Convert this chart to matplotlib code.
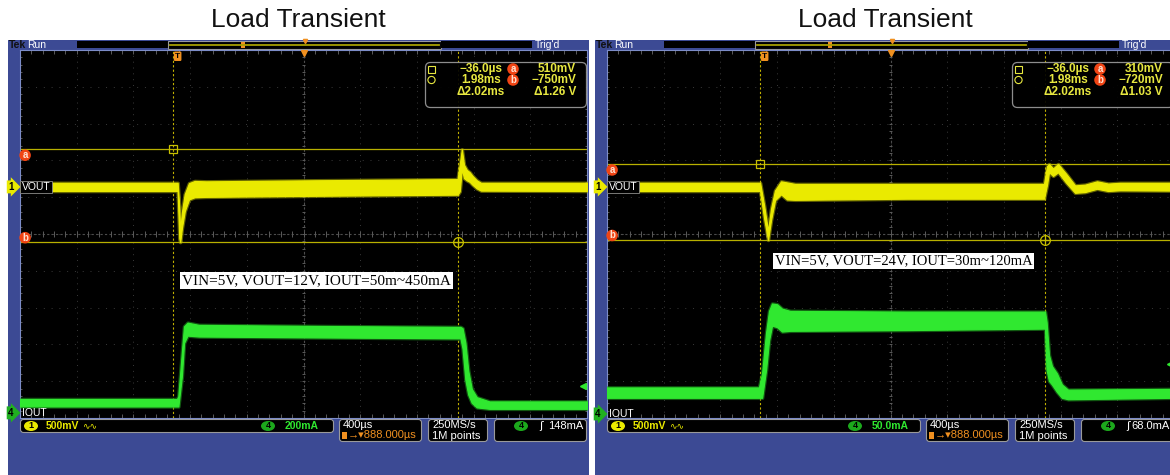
import numpy as np
import matplotlib
matplotlib.use("Agg")
import matplotlib.pyplot as plt
from matplotlib.patches import Rectangle, FancyBboxPatch, Ellipse, Circle
from matplotlib.transforms import blended_transform_factory

W, H = 1170, 475
plt.rcParams["font.family"] = ["Liberation Sans", "DejaVu Sans"]

# ---- scope settings (left: 12 V, right: 24 V) ----
TITLES = ["Load Transient", "Load Transient"]
NOTES = ["VIN=5V, VOUT=12V, IOUT=50m~450mA", "VIN=5V, VOUT=24V, IOUT=30m~120mA"]
CH1_SCALE_MV = 500
CH4_SCALE_MA = [200, 50]
CH4_SCALE_TXT = ["200mA", "50.0mA"]
TIME_PER_DIV_MS = 0.4
H_POSITION_MS = 0.888
CURSOR_T_MS = [-0.036, 1.98]
CURSOR_A_MV = [510, 310]
CURSOR_B_MV = [-750, -720]
TRIG_LEVEL_MA = [148, 68]
TRIG_TXT = ["148mA", "68.0mA"]
CH1_POS_DIV = [1.28, 1.28]
CH4_POS_DIV = [-4.86, -4.89]

# ---- traces: time (ms), upper / lower envelope of the noisy band ----
VOUT12_T = [-1.112, 0.000, 0.012, 0.018, 0.030, 0.050, 0.080, 0.120, 0.200, 1.000,
            1.975, 1.990, 2.005, 2.020, 2.040, 2.060, 2.080, 2.110, 2.140, 2.888]
VOUT12_HI = [55, 55, -300, -600, -350, -100, 50, 80, 75, 90,
             105, 300, 510, 300, 230, 200, 150, 90, 55, 55]
VOUT12_LO = [-55, -55, -700, -750, -560, -330, -170, -140, -135, -120,
             -105, -60, 250, 120, 90, 70, 30, -20, -50, -55]

IOUT12_T = [-1.112, -0.005, 0.005, 0.030, 0.045, 0.070, 0.150, 1.000,
            1.995, 2.010, 2.030, 2.050, 2.075, 2.110, 2.200, 2.888]
IOUT12_HI = [75, 75, 90, 330, 470, 490, 478, 472, 467, 460, 380, 230, 130, 85, 62, 62]
IOUT12_LO = [35, 35, 35, 200, 380, 420, 415, 410, 405, 350, 180, 100, 55, 30, 22, 22]

VOUT24_T = [-1.112, -0.032, -0.004, 0.024, 0.045, 0.073, 0.116, 0.158, 0.215, 1.000,
            1.971, 1.992, 2.006, 2.035, 2.070, 2.126, 2.190, 2.260, 2.345, 2.423, 2.508, 2.888]
VOUT24_HI = [55, 55, -250, -600, -300, -50, 75, 60, 40, 40,
             40, 280, 310, 250, 310, 180, 20, 30, 75, 45, 55, 55]
VOUT24_LO = [-55, -55, -420, -720, -450, -180, -100, -170, -175, -160,
             -160, 30, 200, 150, 200, 60, -80, -70, -25, -55, -45, -50]

IOUT24_T = [-1.112, -0.040, -0.018, 0.010, 0.031, 0.052, 0.088, 0.123, 0.180, 1.000,
            1.978, 1.989, 2.006, 2.027, 2.062, 2.097, 2.140, 2.888]
IOUT24_HI = [36, 36, 55, 110, 140, 150, 149, 143, 140, 139,
             139, 125, 80, 65, 55, 40, 33, 34]
IOUT24_LO = [22, 22, 22, 60, 100, 120, 118, 112, 113, 114,
             116, 60, 45, 40, 30, 22, 20, 22]

PANELS = [
    (VOUT12_T, VOUT12_HI, VOUT12_LO, IOUT12_T, IOUT12_HI, IOUT12_LO),
    (VOUT24_T, VOUT24_HI, VOUT24_LO, IOUT24_T, IOUT24_HI, IOUT24_LO),
]

BLUE = "#3c4a94"
YEL = "#eaea00"
GRN = "#30e830"
ORANGE = "#f09020"
RED = "#f04414"
CUR = "#b8b000"
TXT_YEL = "#e8e840"
PANEL_DX = 587


def place(x0, y0, x1, y1):
    return [x0 / W, 1 - y1 / H, (x1 - x0) / W, (y1 - y0) / H]


def fmt_minus(s):
    return s.replace("-", "\u2212")


def draw_panel(fig, bg, fg, i):
    dx = i * PANEL_DX
    vt, vhi, vlo, it, ihi, ilo = PANELS[i]
    ch1 = CH1_POS_DIV[i]
    ch4 = CH4_POS_DIV[i]
    s4 = CH4_SCALE_MA[i]

    # frame, title and top status bar
    bg.add_patch(Rectangle((8 + dx, 40), 581, 440, fc=BLUE, ec="none"))
    bg.text(298 + dx, 20, TITLES[i], ha="center", va="center", fontsize=19,
            color="#111111", family=["Liberation Sans"])
    bg.text(9 + dx, 45, "Tek", ha="left", va="center", fontsize=7.5, weight="bold", color="#101010")
    bg.text(27 + dx, 45, "Run", ha="left", va="center", fontsize=7.5, color="white")
    bg.add_patch(Rectangle((77 + dx, 41), 91, 7, fc="black", ec="none"))
    bg.add_patch(Rectangle((168 + dx, 40.5), 273, 8, fc="black", ec="#9a9a9a", lw=0.8))
    bg.plot([170 + dx, 439 + dx], [44.5, 44.5], color="#a8a000", lw=1.3)
    bg.add_patch(Rectangle((241 + dx, 42), 3.5, 6, fc=ORANGE, ec="none"))
    bg.plot(305 + dx, 40.5, marker="v", ms=3, color=ORANGE)
    bg.add_patch(Rectangle((441 + dx, 41), 91, 7, fc="black", ec="none"))
    bg.text(535 + dx, 45, "Trig'd", ha="left", va="center", fontsize=7.5, color="white")

    # screen
    ax = fig.add_axes(place(20 + dx, 50, 587 + dx, 418), zorder=1)
    ax.set_facecolor("black")
    x0 = H_POSITION_MS - 5 * TIME_PER_DIV_MS
    x1 = H_POSITION_MS + 5 * TIME_PER_DIV_MS
    ax.set_xlim(x0, x1)
    ax.set_ylim(-5, 5)
    ax.set_xticks([])
    ax.set_yticks([])
    for sp in ax.spines.values():
        sp.set_color("#7c8cc8")
        sp.set_linewidth(0.8)

    for k in range(-4, 5):
        ax.axvline(H_POSITION_MS + k * TIME_PER_DIV_MS, color="#3a3a3a", lw=0.7, ls=(0, (1, 5)))
        ax.axhline(k, color="#3a3a3a", lw=0.7, ls=(0, (1, 7)))
    ax.axvline(H_POSITION_MS, color="#4c4c4c", lw=0.8, ls=(0, (2, 2)))
    ax.axhline(0, color="#4c4c4c", lw=0.8, ls=(0, (2, 2)))
    minor_x = H_POSITION_MS + np.arange(-25, 26) * TIME_PER_DIV_MS / 5
    minor_y = np.arange(-25, 26) / 5
    tick_c = "#5a5a5a"
    ax.vlines(minor_x, -0.08, 0.08, color=tick_c, lw=0.7)
    ax.vlines(minor_x, 4.9, 5, color=tick_c, lw=0.7)
    ax.vlines(minor_x, -5, -4.9, color=tick_c, lw=0.7)
    ax.hlines(minor_y, H_POSITION_MS - 0.013, H_POSITION_MS + 0.013, color=tick_c, lw=0.7)
    ax.hlines(minor_y, x0, x0 + 0.015, color=tick_c, lw=0.7)
    ax.hlines(minor_y, x1 - 0.015, x1, color=tick_c, lw=0.7)

    # cursors
    ya = ch1 + CURSOR_A_MV[i] / CH1_SCALE_MV
    yb = ch1 + CURSOR_B_MV[i] / CH1_SCALE_MV
    ax.axhline(ya, color=CUR, lw=0.9, zorder=2)
    ax.axhline(yb, color=CUR, lw=0.9, zorder=2)
    for t in CURSOR_T_MS:
        ax.axvline(t, color="#c0b000", lw=0.8, ls=(0, (2, 2)), zorder=2)
    ax.plot(CURSOR_T_MS[0], ya, marker="s", ms=6, mfc="none", mec="#c8c000", mew=0.9, zorder=4)
    ax.plot(CURSOR_T_MS[1], yb, marker="o", ms=7, mfc="none", mec="#c8c000", mew=0.9, zorder=4)
    ax.plot(CURSOR_T_MS[1], yb, marker="+", ms=7, color="#c8c000", mew=0.9, zorder=4)

    # traces: a soft halo under a bright core, like the persistence blur
    v_hi = ch1 + np.array(vhi) / CH1_SCALE_MV
    v_lo = ch1 + np.array(vlo) / CH1_SCALE_MV
    i_hi = ch4 + np.array(ihi) / s4
    i_lo = ch4 + np.array(ilo) / s4
    ax.fill_between(vt, v_hi, v_lo, color="#b0b000", ec="#b0b000", lw=2.6, alpha=0.55, zorder=3)
    ax.fill_between(vt, v_hi, v_lo, color=YEL, ec=YEL, lw=0.9, zorder=3)
    ax.fill_between(it, i_hi, i_lo, color="#20a020", ec="#20a020", lw=2.6, alpha=0.55, zorder=3)
    ax.fill_between(it, i_hi, i_lo, color=GRN, ec=GRN, lw=0.9, zorder=3)

    # trigger markers
    ax.plot(x1 - 0.03, ch4 + TRIG_LEVEL_MA[i] / s4, marker="<", ms=4, color=GRN, zorder=4)
    ax.text(0.0, 4.83, "T", ha="center", va="center", fontsize=6, weight="bold", color="black",
            bbox=dict(boxstyle="round,pad=0.15", fc=ORANGE, ec="none"), zorder=5)
    ax.plot(H_POSITION_MS, 4.93, marker="v", ms=5, color=ORANGE, zorder=5)

    # channel and cursor tags on the left edge
    tr = blended_transform_factory(ax.transAxes, ax.transData)
    ax.text(-0.016, ch1, "1", transform=tr, ha="center", va="center", fontsize=7, weight="bold",
            color="black", bbox=dict(boxstyle="rarrow,pad=0.15", fc=YEL, ec="none"),
            clip_on=False, zorder=6)
    ax.text(0.003, ch1, "VOUT", transform=tr, ha="left", va="center", fontsize=7.5, color="white",
            bbox=dict(boxstyle="square,pad=0.12", fc="black", ec="#8a8a8a", lw=0.6), zorder=6)
    ax.text(-0.016, ch4, "4", transform=tr, ha="center", va="center", fontsize=7, weight="bold",
            color="black", bbox=dict(boxstyle="rarrow,pad=0.15", fc="#20b020", ec="none"),
            clip_on=False, zorder=6)
    ax.text(0.003, ch4, "IOUT", transform=tr, ha="left", va="center", fontsize=7.5, color="white",
            zorder=6)
    for y, lab in [(ya - 0.16, "a"), (yb + 0.12, "b")]:
        ax.text(0.009, y, lab, transform=tr, ha="center", va="center", fontsize=7, weight="bold",
                color="#ffe0d0", bbox=dict(boxstyle="circle,pad=0.08", fc=RED, ec="none"), zorder=6)

    # cursor readout
    fg.add_patch(FancyBboxPatch((427 + dx, 64), 158, 42, boxstyle="round,pad=1.5,rounding_size=5",
                                fc="black", ec="#9a9a9a", lw=0.9, alpha=0.92))
    fg.add_patch(Rectangle((428 + dx, 65.5), 7, 7, fc="none", ec=TXT_YEL, lw=0.8))
    fg.add_patch(Circle((431.5 + dx, 80), 3.6, fc="none", ec=TXT_YEL, lw=0.8))
    t0, t1 = CURSOR_T_MS
    col1 = [fmt_minus(f"{t0 * 1000:.1f}µs"), f"{t1:.2f}ms", f"Δ{t1 - t0:.2f}ms"]
    a, b = CURSOR_A_MV[i], CURSOR_B_MV[i]
    col2 = [f"{a}mV", fmt_minus(f"{b}mV"), f"Δ{(a - b) / 1000:.2f} V"]
    for r, y in enumerate([69, 80, 92]):
        fg.text(481 + dx, y, col1[r], ha="center", va="center", fontsize=8.5, weight="bold", color=TXT_YEL)
        fg.text(576 + dx, y, col2[r], ha="right", va="center", fontsize=8.5, weight="bold", color=TXT_YEL)
    for y, lab in [(69, "a"), (80, "b")]:
        fg.text(513 + dx, y, lab, ha="center", va="center", fontsize=7, weight="bold", color="#ffe0d0",
                bbox=dict(boxstyle="circle,pad=0.08", fc=RED, ec="none"))

    # note box
    fg.text(316.5 + dx, 280.5 - 19.5 * i, NOTES[i], ha="center", va="center",
            fontsize=11 - 0.5 * i, family=["Liberation Serif"], color="black",
            bbox=dict(boxstyle="square,pad=0.12", fc="white", ec="none"))

    # bottom status boxes
    def sbox(xa, xb, ya_, yb_):
        bg.add_patch(FancyBboxPatch((xa + dx + 2, ya_ + 1), xb - xa - 4, yb_ - ya_ - 2,
                                    boxstyle="round,pad=1.5,rounding_size=3",
                                    fc="black", ec="#9a9a9a", lw=0.8))

    sbox(20, 334, 420, 432)
    bg.add_patch(Ellipse((31 + dx, 426), 14, 10, fc=YEL, ec="none"))
    bg.text(31 + dx, 426, "1", ha="center", va="center", fontsize=6.5, weight="bold", color="black")
    bg.text(46 + dx, 426, f"{CH1_SCALE_MV}mV", ha="left", va="center", fontsize=7.5, weight="bold", color=YEL)
    bg.text(82 + dx, 426, "∿∿", ha="left", va="center", fontsize=6.5, color=YEL,
            family=["DejaVu Sans"])
    bg.add_patch(Ellipse((268 + dx, 426), 14, 10, fc="#1ca81c", ec="none"))
    bg.text(268 + dx, 426, "4", ha="center", va="center", fontsize=6.5, weight="bold", color="black")
    bg.text(285 + dx, 426, CH4_SCALE_TXT[i], ha="left", va="center", fontsize=7.5, weight="bold", color=GRN)

    sbox(339, 422, 420, 441)
    bg.text(343 + dx, 425, f"{TIME_PER_DIV_MS * 1000:.0f}µs", ha="left", va="center", fontsize=8, color="white")
    bg.add_patch(Rectangle((342 + dx, 432), 5, 7, fc=ORANGE, ec="none"))
    bg.text(348 + dx, 435.5, f"→▾{H_POSITION_MS * 1000:.3f}µs", ha="left", va="center",
            fontsize=8, color=ORANGE)

    sbox(428, 488, 420, 441)
    bg.text(432 + dx, 425, "250MS/s", ha="left", va="center", fontsize=8, color="white")
    bg.text(432 + dx, 436, "1M points", ha="left", va="center", fontsize=8, color="white")

    sbox(494, 587, 420, 441)
    bg.add_patch(Ellipse((521 + dx, 426), 14, 10, fc="#1ca81c", ec="none"))
    bg.text(521 + dx, 426, "4", ha="center", va="center", fontsize=6.5, weight="bold", color="black")
    bg.text(541 + dx, 426, "ʃ", ha="center", va="center", fontsize=8, color="white",
            family=["DejaVu Sans"])
    bg.text(583 + dx, 426, TRIG_TXT[i], ha="right", va="center", fontsize=8, color="white")


def main():
    fig = plt.figure(figsize=(W / 100, H / 100), dpi=100, facecolor="white")
    bg = fig.add_axes([0, 0, 1, 1], zorder=0)
    fg = fig.add_axes([0, 0, 1, 1], zorder=2)
    for o in (bg, fg):
        o.set_xlim(0, W)
        o.set_ylim(H, 0)
        o.axis("off")
    fg.patch.set_alpha(0)
    for i in range(2):
        draw_panel(fig, bg, fg, i)
    fig.savefig("out.png", dpi=100, facecolor="white")


if __name__ == "__main__":
    main()
